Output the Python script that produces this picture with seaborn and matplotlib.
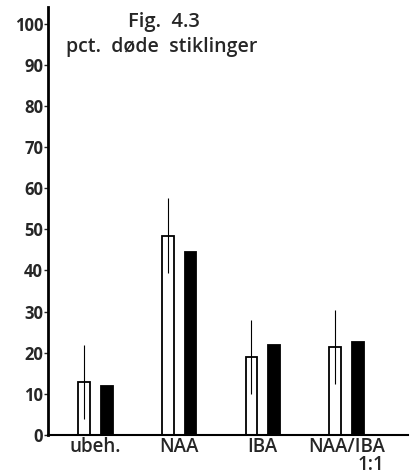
import numpy as np
import pandas as pd
import matplotlib
matplotlib.use("Agg")
import matplotlib.pyplot as plt
import seaborn as sns

# values (pct. dead cuttings)
behandling = ["ubeh.", "NAA", "IBA", "NAA/IBA\n1:1"]
serie_a = [13.0, 48.5, 18.9, 21.5]   # white bars
serie_b = [12.0, 44.6, 21.9, 22.7]   # black bars
serie_a_err = [9.0, 9.0, 9.0, 9.0]
yticks = [0, 10, 20, 30, 40, 50, 60, 70, 80, 90, 100]

df = pd.DataFrame({
    "behandling": behandling * 2,
    "pct": serie_a + serie_b,
    "serie": ["a"] * 4 + ["b"] * 4,
})

sns.set_style("white")
plt.rcParams["font.family"] = ["Open Sans", "DejaVu Sans"]

fig = plt.figure(figsize=(4.11, 4.76), dpi=100)
ax = fig.add_axes([0.117, 0.086, 0.876, 0.899])

sns.barplot(data=df, x="behandling", y="pct", hue="serie", order=behandling,
            palette={"a": "white", "b": "black"}, width=0.54, gap=0.47,
            edgecolor="black", linewidth=1.3, errorbar=None, legend=False, ax=ax)

# error lines on the white bars (no caps)
xa = np.arange(len(behandling)) - 0.135
ax.errorbar(xa, serie_a, yerr=serie_a_err, fmt="none", ecolor="black",
            elinewidth=0.8, capsize=0)

ax.set_xlim(-0.57, 3.74)
ax.set_ylim(0, 104)
ax.set_yticks(yticks)
ax.set_yticklabels([str(t) for t in yticks], fontsize=12, fontweight="bold")
ax.tick_params(axis="y", direction="out", length=3, width=1, pad=0.5, left=True)
ax.tick_params(axis="x", length=0, pad=1.5)
for lab in ax.get_xticklabels():
    lab.set_fontsize(13.5)
    lab.set_fontweight("semibold")
    lab.set_multialignment("right")
    lab.set_linespacing(0.85)
ax.set_xlabel("")
ax.set_ylabel("")

sns.despine(ax=ax)
ax.spines["left"].set_linewidth(2)
ax.spines["bottom"].set_linewidth(1.5)
ax.spines["left"].set_color("black")
ax.spines["bottom"].set_color("black")

fig.text(0.399, 0.954, "Fig.  4.3", ha="center", va="center",
         fontsize=14.5, fontweight="semibold")
fig.text(0.394, 0.901, "pct.  døde  stiklinger", ha="center", va="center",
         fontsize=14, fontweight="semibold")

fig.savefig("out.png", dpi=100)
